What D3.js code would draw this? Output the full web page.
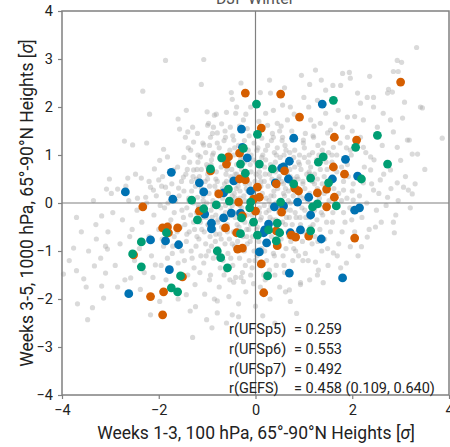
<!DOCTYPE html>
<html>
<head>
<meta charset="utf-8">
<script src="https://cdn.jsdelivr.net/npm/d3@7"></script>
<style>
  body { margin: 0; background: #fff; }
  text { font-family: Roboto, "Noto Sans", sans-serif; fill: #222; }
</style>
</head>
<body>
<div id="chart"></div>
<script>
var width = 450;
var height = 447;

var xTicks = [-4, -2, 0, 2, 4];
var yTicks = [-4, -3, -2, -1, 0, 1, 2, 3, 4];

// grey cloud (all members)
var backgroundPoints = [
  [-1.86,2.97],[-1.07,2.99],[-2.33,2.33],[-1.12,2.47],[-2.19,1.85],[-1.43,1.93],[-0.48,2.16],[-0.39,2.0],[-0.85,1.83],
  [3.33,3.24],[2.93,2.97],[3.02,2.93],[2.85,2.74],[2.95,2.74],[3.45,1.98],[3.86,1.35],[3.35,1.02],[3.24,1.02],
  [1.24,2.77],[0.95,2.66],[0.29,2.56],[1.8,2.7],[1.94,2.72],[2.75,2.37],[3.08,2.1],[1.36,2.56],[2.36,2.64],[1.96,2.6],
  [-2.71,1.29],[-2.54,1.21],[-2.25,1.25],[-3.02,0.5],[-3.08,0.29],[-2.85,0.29],[-2.64,0.52],[-2.36,0.52],[-2.09,0.71],
  [-1.98,0.89],[-1.9,1.12],[-1.82,0.96],[-1.57,1.54],[-1.45,1.37],[-1.4,1.48],[-1.3,1.58],[-1.28,1.27],[-0.97,1.66],
  [-0.87,1.58],[-0.99,1.62],
  [-3.76,-0.94],[-3.97,-1.48],[-3.7,-1.41],[-3.68,-2.1],[-3.47,-2.43],[-3.37,-2.18],[-3.55,-1.58],[-3.18,-1.73],
  [-3.14,-1.98],[-3.1,-1.46],[-3.33,-1.31],[-3.18,-0.27],[-3.29,-0.75],[-3.06,-0.96],[-2.17,-2.33],[-1.24,-2.16],
  [-1.01,-2.43],[-0.79,-2.29],[-1.43,-1.91],[-2.07,-1.29],[-2.58,-1.56],
  [3.24,0.19],[2.85,-0.4],[2.87,-0.62],[2.48,-0.5],[2.31,-0.71],[2.19,-0.91],[1.96,-0.91],[1.61,-1.04],[1.24,-1.23],
  [0.93,-1.7],[0.7,-1.81],[1.76,-1.35],[1.4,-1.66],[1.28,-1.5],[-0.48,-2.33],[-0.35,-2.37],[-0.79,-2.04],[-0.25,-1.64],
  [-0.04,-1.68],[0.62,-1.85],[0.93,-1.66],
  [1.12,2.47],[0.31,2.29],[-0.81,1.85],[-0.6,1.89],[-0.41,1.87],[-0.1,2.0],[0.21,1.87],[0.37,1.93],[0.56,2.04],
  [0.72,2.0],[1.1,2.0],[1.28,2.14],[1.45,1.87],[-0.52,1.58],[-0.25,1.73],[0.25,1.62],[0.45,1.66],[0.66,1.73],
  [1.14,1.73],[1.34,1.66],[-0.79,1.46],[-0.62,1.37],[-0.45,1.31],[0.37,1.37],[0.56,1.37],[0.99,1.31],[1.2,1.37],[1.49,1.46],
  [1.45,2.35],[1.76,2.45],[2.11,2.29],[2.31,2.2],[2.44,2.2],[2.73,2.29],[2.83,2.31],[2.17,2.08],[2.44,2.0],[2.64,1.87],
  [2.79,1.73],[3.04,1.77],[3.41,2.0],[1.9,1.79],[1.71,1.93],[2.23,1.73],[2.52,1.58],[2.85,1.48],[3.14,1.31],[3.18,1.31],
  [3.0,0.89],[2.93,1.16],[3.06,0.33],[3.16,0.27],[2.79,0.69],[2.38,0.96],[2.23,1.16],[2.17,1.37],[1.9,1.37],[1.8,1.58],
  [1.55,1.52],[1.61,1.16],[1.96,1.1],[2.38,0.69],[2.58,0.48],[2.23,0.42],[2.44,0.27],[2.93,0.42],[1.82,0.27],[2.02,0.06],[2.73,0.12],
  [-1.14,0.96],[-1.28,0.69],[-0.99,0.75],[-1.49,0.54],[-1.59,0.31],[-1.2,0.12],[-0.87,1.04],[-0.93,1.37],[-1.07,1.21],
  [-1.34,1.1],[-1.69,0.69],[-1.86,0.33],[-2.11,0.27],[-2.27,0.12],[-2.44,0.1],[-2.0,0.48],[-2.17,0.33],
  [-3.6,-0.6],[-3.45,-1.0],[-3.3,-0.45],[-3.2,-1.15],[-3.05,-0.6],[-2.95,-0.2],[-2.9,-1.3],[-2.8,-0.85],[-2.75,-0.35],
  [-2.7,-1.6],[-2.62,0.05],[-2.55,-0.55],[-2.5,-1.2],[-2.45,-0.15],[-2.4,-0.95],[-2.35,-0.4],[-2.3,-1.45],[-2.25,0.0],
  [-2.2,-0.7],[-2.15,-1.1],[-2.1,-0.25],[-2.05,0.15],[-2.0,-0.55],[-1.95,-1.3],[-1.9,-0.9],[-1.88,-0.1],[-1.85,-1.6],
  [-1.8,0.2],[-1.75,-0.35],[-1.72,-1.05],[-1.68,-0.7],[-1.65,0.05],[-1.6,-1.25],[-1.55,-0.5],[-1.52,-0.15],[-3.85,-1.2],
  [-3.5,-1.75],[-3.1,-0.9],[-2.85,-1.75],[-2.6,-0.7],[-2.38,-1.8],[-2.12,-1.55],[-1.98,-2.05],[-3.35,0.05],[-2.98,0.2],
  [-2.68,0.35],[-3.7,-0.3],[-2.2,0.45],[-1.92,0.55],[-2.48,0.6],
  [-1.47,-1.2],[-1.43,-0.8],[-1.46,-0.45],[-1.42,-0.1],[-1.48,0.25],[-1.44,0.6],
  [-1.33,-1.0],[-1.37,-0.6],[-1.34,-0.25],[-1.38,0.1],[-1.32,0.45],[-1.36,0.85],
  [-1.27,-1.35],[-1.23,-0.9],[-1.26,-0.55],[-1.22,-0.2],[-1.28,0.0],[-1.24,0.35],[-1.21,0.7],
  [-1.13,-1.1],[-1.17,-0.75],[-1.14,-0.4],[-1.18,-0.05],[-1.12,0.3],[-1.16,0.55],[-1.19,1.0],
  [-1.07,-1.25],[-1.03,-0.85],[-1.06,-0.6],[-1.02,-0.3],[-1.08,0.15],[-1.04,0.45],[-1.01,0.8],
  [-0.93,-1.5],[-0.97,-1.0],[-0.94,-0.7],[-0.98,-0.45],[-0.92,-0.15],[-0.96,0.2],[-0.99,0.5],[-0.91,0.9],[-0.95,1.2],
  [-0.87,-1.15],[-0.83,-0.8],[-0.86,-0.55],[-0.82,-0.25],[-0.88,0.05],[-0.84,0.35],[-0.81,0.65],[-0.89,1.0],
  [-0.73,-1.35],[-0.77,-0.95],[-0.74,-0.65],[-0.78,-0.4],[-0.72,-0.1],[-0.76,0.15],[-0.79,0.45],[-0.71,0.75],[-0.75,1.15],
  [-0.67,-1.2],[-0.63,-0.85],[-0.66,-0.55],[-0.62,-0.2],[-0.68,0.1],[-0.64,0.4],[-0.61,0.6],[-0.69,0.95],[-0.65,1.3],
  [-0.53,-1.6],[-0.57,-1.05],[-0.54,-0.75],[-0.58,-0.45],[-0.52,-0.15],[-0.56,0.05],[-0.59,0.3],[-0.51,0.55],[-0.55,0.85],[-0.53,1.1],
  [-0.47,-1.3],[-0.43,-0.9],[-0.46,-0.6],[-0.42,-0.3],[-0.48,-0.05],[-0.44,0.2],[-0.41,0.45],[-0.49,0.7],[-0.45,1.0],[-0.47,1.4],
  [-0.33,-1.15],[-0.37,-0.8],[-0.34,-0.5],[-0.38,-0.2],[-0.32,0.1],[-0.36,0.35],[-0.39,0.6],[-0.31,0.9],[-0.35,1.2],
  [-0.27,-1.45],[-0.23,-1.0],[-0.26,-0.7],[-0.22,-0.4],[-0.28,-0.1],[-0.24,0.15],[-0.21,0.4],[-0.29,0.7],[-0.25,0.95],[-0.23,1.3],
  [-0.13,-1.2],[-0.17,-0.85],[-0.14,-0.55],[-0.18,-0.25],[-0.12,0.0],[-0.16,0.25],[-0.19,0.5],[-0.11,0.8],[-0.15,1.1],[-0.17,1.55],
  [-0.07,-1.35],[-0.03,-1.0],[-0.06,-0.7],[-0.02,-0.35],[-0.08,-0.1],[-0.04,0.2],[-0.01,0.45],[-0.09,0.65],[-0.05,0.9],[-0.03,1.25],
  [0.03,-1.1],[0.07,-0.8],[0.04,-0.5],[0.08,-0.2],[0.02,0.05],[0.06,0.3],[0.09,0.55],[0.01,0.85],[0.05,1.15],[0.07,1.7],
  [0.17,-1.5],[0.13,-0.95],[0.16,-0.6],[0.12,-0.3],[0.18,-0.05],[0.14,0.2],[0.11,0.45],[0.19,0.75],[0.15,1.0],[0.13,1.35],
  [0.23,-1.2],[0.27,-0.85],[0.24,-0.45],[0.28,-0.15],[0.22,0.1],[0.26,0.35],[0.29,0.6],[0.21,0.9],[0.25,1.2],
  [0.37,-1.05],[0.33,-0.7],[0.36,-0.35],[0.32,-0.05],[0.38,0.25],[0.34,0.5],[0.31,0.8],[0.39,1.05],[0.35,1.45],
  [0.43,-1.3],[0.47,-0.9],[0.44,-0.55],[0.48,-0.2],[0.42,0.0],[0.46,0.3],[0.49,0.55],[0.41,0.85],[0.45,1.15],
  [0.57,-1.1],[0.53,-0.75],[0.56,-0.4],[0.52,-0.1],[0.58,0.2],[0.54,0.45],[0.51,0.7],[0.59,1.0],[0.55,1.3],
  [0.63,-0.95],[0.67,-0.6],[0.64,-0.3],[0.68,0.05],[0.62,0.3],[0.66,0.6],[0.69,0.9],[0.61,1.2],
  [0.77,-1.2],[0.73,-0.8],[0.76,-0.45],[0.72,-0.15],[0.78,0.15],[0.74,0.4],[0.71,0.7],[0.79,0.95],[0.75,1.5],
  [0.83,-1.0],[0.87,-0.6],[0.84,-0.3],[0.88,0.0],[0.82,0.25],[0.86,0.55],[0.89,0.85],[0.81,1.1],
  [0.97,-0.8],[0.93,-0.45],[0.96,-0.1],[0.92,0.15],[0.98,0.4],[0.94,0.7],[0.91,1.0],[0.99,1.25],
  [1.03,-1.05],[1.07,-0.65],[1.04,-0.3],[1.08,0.05],[1.02,0.3],[1.06,0.6],[1.09,0.85],[1.01,1.15],
  [1.17,-0.85],[1.13,-0.5],[1.16,-0.15],[1.12,0.2],[1.18,0.45],[1.14,0.75],[1.11,1.0],[1.19,1.4],
  [1.23,-0.7],[1.27,-0.35],[1.24,0.0],[1.28,0.3],[1.22,0.6],[1.26,0.9],[1.29,1.2],
  [1.37,-1.0],[1.33,-0.55],[1.36,-0.2],[1.32,0.1],[1.38,0.4],[1.34,0.7],[1.31,1.0],
  [1.43,-0.75],[1.47,-0.4],[1.44,-0.05],[1.48,0.25],[1.42,0.55],[1.46,0.85],[1.41,1.25],
  [-0.9,-0.3],[-0.8,0.25],[-0.7,-0.5],[-0.6,0.45],[-0.5,-0.25],[-0.4,0.3],[-0.3,-0.6],[-0.2,0.55],[-0.1,-0.45],[0.0,0.35],
  [0.1,-0.35],[0.2,0.6],[0.3,-0.3],[0.4,0.4],[0.5,-0.6],[0.6,0.15],[0.7,-0.3],[0.8,0.5],[0.9,-0.55],[1.0,0.1],
  [-0.95,0.35],[-0.82,-0.65],[-0.68,0.2],[-0.58,-0.3],[-0.42,0.6],[-0.32,-0.05],[-0.18,-0.7],[-0.08,0.1],[0.08,0.65],[0.22,-0.55],
  [0.32,0.15],[0.48,0.7],[0.62,-0.15],[0.72,0.55],[0.88,0.3],[1.12,0.6],[1.22,-0.15],[0.42,-0.75],[-0.48,-0.85],[-1.1,-0.3],
  [1.55,-0.6],[1.6,-0.2],[1.62,0.3],[1.68,0.65],[1.72,-0.85],[1.78,0.05],[1.82,0.45],[1.85,-0.4],[1.9,0.8],[1.95,-0.1],
  [2.0,0.25],[2.05,-0.6],[2.1,0.55],[2.15,0.15],[2.2,-0.3],[2.25,0.75],[2.3,0.0],[2.35,-0.55],[2.4,0.4],[2.45,0.9],
  [2.5,-0.15],[2.55,0.2],[2.6,-0.4],[2.65,0.6],[2.7,-0.05],[2.8,0.3],[2.9,-0.25],[2.95,0.05],[3.1,0.55],[3.2,-0.1],
  [3.3,0.4],[3.5,0.7],[1.58,1.0],[1.75,1.25],[2.0,1.5],[1.88,-1.25],[2.12,-1.1],[2.28,1.05],[2.62,1.2],[2.05,1.8],
  [1.65,1.65],[1.5,-1.3],[1.3,-1.4],[1.12,-1.6],[0.98,-1.2],
  [-1.4,-1.5],[-1.25,-1.7],[-1.15,-1.45],[-1.05,-1.9],[-0.95,-1.6],[-0.85,-2.0],[-0.75,-1.75],[-0.65,-1.5],[-0.55,-1.95],
  [-0.45,-1.65],[-0.35,-2.1],[-0.3,-1.55],[-0.2,-1.85],[-0.1,-1.5],[0.0,-2.15],[0.1,-1.75],[0.2,-1.6],[0.3,-2.0],[0.4,-1.5],
  [0.5,-1.75],[0.6,-1.45],[0.72,-2.05],[-1.6,-2.0],[-1.35,-2.25],[-0.6,-2.5],[0.15,-2.35],[-0.9,-2.6],[0.4,-2.5],[0.85,-2.3],[-1.3,-2.8],
  [-1.2,1.45],[-1.0,1.9],[-0.7,1.65],[-0.5,2.3],[-0.2,1.85],[-1.6,1.75],[-0.3,2.5],[0.1,2.3],[0.6,2.4],[0.8,1.85],
  [1.0,2.2],[0.5,1.5],[1.6,2.45],
  [-1.93,-0.75],[-1.97,-0.05],[-1.94,0.35],[-1.82,-1.15],[-1.78,-0.45],[-1.81,0.0],[-1.71,-0.9],[-1.68,-0.2],[-1.73,0.4],
  [-1.62,-0.6],[-1.58,0.15],[-1.61,0.75],[-1.52,-1.0],[-1.49,-0.3],[-1.53,0.45],[-1.48,0.95],[-1.42,-0.65],[-1.38,0.05],
  [-1.41,0.7],[-1.39,1.15],[-1.31,-1.15],[-1.28,-0.4],[-1.32,0.25],[-1.29,0.55],[-1.21,-0.7],[-1.18,-0.1],[-1.22,0.5],
  [-1.19,0.85],[-1.11,-0.55],[-1.08,0.05],[-1.12,0.7],[-1.09,1.25],[-1.02,-1.1],[-0.98,-0.45],[-1.01,0.0],[-0.99,0.6],
  [-1.03,1.05],[-0.91,-0.9],[-0.88,-0.05],[-0.92,0.8],[-0.89,1.45],[-0.81,-1.05],[-0.78,-0.35],[-0.82,0.5],[-0.79,1.25],
  [-0.71,-0.75],[-0.68,0.3],[-0.72,0.9],[-0.61,-1.4],[-0.58,-0.6],[-0.62,-0.05],[-0.59,0.7],[-0.63,1.5],[-0.51,-1.15],
  [-0.48,0.15],[-0.52,0.95],[-0.41,-1.55],[-0.38,-0.45],[-0.42,0.1],[-0.39,0.8],[-0.43,1.15],[-0.31,-0.95],[-0.28,-0.35],
  [-0.32,0.25],[-0.29,1.05],[-0.33,1.6],[-0.21,-1.3],[-0.18,-0.55],[-0.22,0.05],[-0.19,0.3],[-0.23,0.85],[-0.11,-0.8],
  [-0.08,-0.25],[-0.12,0.4],[-0.09,1.0],[-0.13,1.4],[-0.01,-1.2],[0.02,-0.55],[-0.02,0.1],[0.01,0.6],[0.03,1.1],
  [0.09,-1.3],[0.12,-0.65],[0.08,-0.1],[0.11,0.35],[0.13,0.95],[0.09,1.5],[0.19,-1.0],[0.22,-0.2],[0.18,0.45],[0.21,1.1],
  [0.29,-1.4],[0.32,-0.55],[0.28,0.05],[0.31,0.7],[0.33,1.3],[0.39,-1.1],[0.42,-0.35],[0.38,0.15],[0.41,0.65],[0.43,1.0],
  [0.49,-0.85],[0.52,-0.05],[0.48,0.5],[0.51,0.95],[0.53,1.6],[0.59,-1.3],[0.62,-0.45],[0.58,0.4],[0.61,0.8],[0.63,1.1],
  [0.69,-0.7],[0.72,0.0],[0.68,0.25],[0.71,1.05],[0.79,-0.95],[0.82,-0.2],[0.78,0.35],[0.81,0.75],[0.83,1.35],
  [0.89,-1.1],[0.92,-0.3],[0.88,0.5],[0.91,0.8],[0.99,-0.6],[1.02,-0.15],[0.98,0.45],[1.01,0.95],[1.03,1.45],
  [1.09,-1.2],[1.12,-0.3],[1.08,0.15],[1.11,0.65],[1.19,-0.45],[1.22,0.4],[1.18,1.05],[1.21,1.6],[1.29,-0.8],
  [1.32,-0.05],[1.28,0.5],[1.31,0.85],[1.39,-0.25],[1.42,0.2],[1.38,1.1],[1.49,-0.95],[1.52,0.05],[1.48,0.7],[1.51,1.05],
  [1.59,-0.4],[1.62,0.5],[1.58,0.85],[1.69,-1.1],[1.72,0.2],[1.68,1.0],[1.79,-0.6],[1.82,-0.2],[1.78,0.75],
  [1.89,0.1],[1.92,0.55],[1.88,1.15],[1.99,-0.35],[2.02,0.4],[1.98,1.0]
];

// UFSp5 (blue)
var ufsP5 = [
  [1.38,2.06],[-0.29,1.54],[0.79,1.35],[-0.27,1.16],[-0.17,0.94],[1.86,0.91],[0.70,0.87],[0.58,0.75],[0.54,0.73],
  [-1.74,0.64],[2.11,0.56],[0.68,0.50],[1.59,0.50],[-0.45,0.46],[-1.16,0.42],[0.41,0.42],[-0.10,0.25],[-2.69,0.23],
  [-1.07,0.23],[-0.66,0.21],[1.10,0.12],[-1.71,0.08],[0.87,0.02],[0.58,-0.06],[0.39,-0.08],[2.05,-0.15],[2.15,-0.10],
  [-0.50,-0.21],[-1.05,-0.23],[-0.31,-0.21],[1.14,-0.25],[-0.66,-0.31],[-0.91,-0.42],[0.27,-0.44],[-0.91,-0.54],
  [0.19,-0.56],[0.93,-0.56],[0.72,-0.62],[-2.17,-0.77],[-1.86,-0.79],[-1.59,-0.87],[0.23,-0.83],[1.36,-0.75],
  [0.08,-1.02],[-1.78,-1.39],[0.70,-1.46],[1.80,-1.56],[-2.62,-1.89],[0.17,-0.62]
];

// UFSp6 (orange)
var ufsP6 = [
  [3.00,2.52],[-0.21,2.29],[0.52,2.27],[0.91,1.79],[0.12,1.56],[1.63,1.37],[2.09,1.31],[-0.33,1.04],[-0.56,0.96],
  [-0.60,0.81],[1.61,0.75],[-0.93,0.67],[0.60,0.67],[1.84,0.60],[-0.33,0.50],[-0.21,0.48],[0.43,0.40],[0.04,0.33],
  [0.81,0.31],[0.89,0.25],[1.47,0.29],[1.28,0.21],[-0.76,0.19],[1.63,0.12],[0.08,0.12],[-0.04,0.08],[-0.35,0.02],
  [-2.33,-0.08],[1.47,-0.08],[0.00,-0.17],[-1.16,-0.17],[0.54,-0.19],[-0.27,-0.27],[-1.92,-0.52],[-1.82,-0.50],
  [-1.80,-0.62],[-1.61,-0.52],[-0.62,-0.52],[-0.39,-0.62],[0.43,-0.58],[0.74,-0.67],[0.83,-0.71],[1.10,-0.69],
  [2.05,-0.73],[0.45,-0.89],[-0.37,-0.96],[-0.27,-0.94],[-2.52,-1.08],[0.12,-1.27],[-1.51,-1.54],[-1.90,-1.85],
  [-2.17,-1.95],[0.17,-1.87],[-1.92,-2.33]
];

// UFSp7 (green)
var ufsP7 = [
  [1.61,2.14],[0.02,2.06],[0.04,1.43],[2.52,1.41],[-0.25,1.14],[2.07,1.16],[-0.70,0.94],[1.40,0.96],[-0.31,0.81],
  [0.08,0.81],[1.30,0.85],[2.73,0.81],[-0.93,0.71],[0.35,0.71],[-0.21,0.62],[1.14,0.52],[2.19,0.50],[1.51,0.42],
  [0.79,0.40],[-0.56,0.29],[-1.32,0.06],[-0.54,0.04],[-0.10,0.02],[0.52,0.02],[-0.81,-0.04],[1.28,-0.02],[1.18,-0.08],
  [1.67,-0.06],[-1.07,-0.12],[-0.12,-0.10],[-0.29,-0.31],[-1.20,-0.35],[-0.04,-0.40],[0.45,-0.42],[0.27,-0.56],
  [1.14,-0.58],[0.50,-0.62],[-0.31,-0.64],[0.04,-0.67],[-1.84,-0.62],[0.43,-0.79],[-2.36,-0.81],[-0.79,-1.00],
  [-2.54,-1.06],[-0.72,-1.14],[-2.36,-1.33],[-0.58,-1.35],[0.25,-1.52],[-1.55,-1.52],[-1.74,-1.77],[-1.61,-1.85]
];

var statLabels = ["r(UFSp5)", "r(UFSp6)", "r(UFSp7)", "r(GEFS)"];
var statValues = ["= 0.259", "= 0.553", "= 0.492", "= 0.458 (0.109, 0.640)"];

var seriesColors = ["#0072B2", "#D55E00", "#009E73"];

function createSVG(width, height) {
  return d3.select("#chart")
    .append("svg")
    .attr("width", width)
    .attr("height", height);
}

function drawPoints(svg, data, x, y, r, fill, opacity) {
  svg.append("g")
    .selectAll("circle")
    .data(data)
    .enter()
    .append("circle")
    .attr("cx", function(d) { return x(d[0]); })
    .attr("cy", function(d) { return y(d[1]); })
    .attr("r", r)
    .style("fill", fill)
    .style("fill-opacity", opacity);
}

function main() {
  var svg = createSVG(width, height);

  var x = d3.scaleLinear().domain([-4, 4]).range([62, 449]);
  var y = d3.scaleLinear().domain([-4, 4]).range([395, 11]);

  // title, mostly cut off by the top edge
  svg.append("text")
    .attr("x", 255)
    .attr("y", 4)
    .attr("text-anchor", "middle")
    .style("font-size", "16px")
    .style("fill", "#555")
    .text("DJF Winter");

  drawPoints(svg, backgroundPoints, x, y, 2.6, "#a8a8a8", 0.42);

  // zero lines
  svg.append("line")
    .attr("x1", x(0)).attr("x2", x(0))
    .attr("y1", y(4)).attr("y2", y(-4))
    .style("stroke", "#808080").style("stroke-width", 1.2);
  svg.append("line")
    .attr("x1", x(-4)).attr("x2", x(4))
    .attr("y1", y(0)).attr("y2", y(0))
    .style("stroke", "#808080").style("stroke-width", 1.2);

  drawPoints(svg, ufsP5, x, y, 4.4, seriesColors[0], 1);
  drawPoints(svg, ufsP6, x, y, 4.4, seriesColors[1], 1);
  drawPoints(svg, ufsP7, x, y, 4.4, seriesColors[2], 1);

  // axes
  var xAxis = svg.append("g")
    .attr("transform", "translate(0," + y(-4) + ")")
    .call(d3.axisBottom(x).tickValues(xTicks).tickSize(4).tickPadding(6).tickSizeOuter(0));
  var yAxis = svg.append("g")
    .attr("transform", "translate(" + x(-4) + ",0)")
    .call(d3.axisLeft(y).tickValues(yTicks).tickSize(4).tickPadding(5).tickSizeOuter(0));

  [xAxis, yAxis].forEach(function(a) {
    a.select(".domain").remove();
    a.selectAll(".tick line").style("stroke", "#808080").style("stroke-width", 1.2);
    a.selectAll(".tick text")
      .style("font-size", "14.5px")
      .style("font-family", "Roboto, sans-serif")
      .style("fill", "#222");
  });

  // frame
  svg.append("rect")
    .attr("x", x(-4))
    .attr("y", y(4))
    .attr("width", x(4) - x(-4))
    .attr("height", y(-4) - y(4))
    .style("fill", "none")
    .style("stroke", "#808080")
    .style("stroke-width", 1.5);

  // correlation text
  var stats = svg.append("g");
  stats.selectAll("text.lab")
    .data(statLabels)
    .enter()
    .append("text")
    .attr("class", "lab")
    .attr("x", 229)
    .attr("y", function(d, i) { return 334 + i * 19.8; })
    .style("font-size", "14.5px")
    .text(function(d) { return d; });
  stats.selectAll("text.val")
    .data(statValues)
    .enter()
    .append("text")
    .attr("class", "val")
    .attr("x", 294)
    .attr("y", function(d, i) { return 334 + i * 19.8; })
    .style("font-size", "14.5px")
    .text(function(d) { return d; });

  // axis titles
  var xTitle = svg.append("text")
    .attr("x", 256)
    .attr("y", 439)
    .attr("text-anchor", "middle")
    .style("font-size", "17.5px");
  xTitle.append("tspan").text("Weeks 1-3, 100 hPa, 65°-90°N Heights [");
  xTitle.append("tspan").style("font-style", "italic").text("σ");
  xTitle.append("tspan").text("]");

  var yTitle = svg.append("text")
    .attr("transform", "translate(33," + 203 + ") rotate(-90)")
    .attr("text-anchor", "middle")
    .style("font-size", "17.5px");
  yTitle.append("tspan").text("Weeks 3-5, 1000 hPa, 65°-90°N Heights [");
  yTitle.append("tspan").style("font-style", "italic").text("σ");
  yTitle.append("tspan").text("]");
}

window.onload = function() {
  main();
};
</script>
</body>
</html>
